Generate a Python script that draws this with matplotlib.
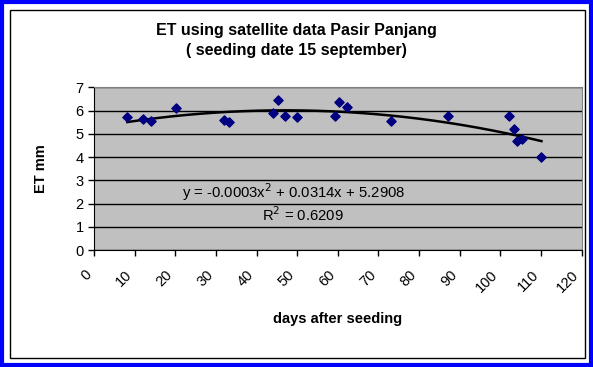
import numpy as np
import matplotlib
matplotlib.use("Agg")
import matplotlib.pyplot as plt
from matplotlib.patches import Rectangle

plt.rcParams['font.family'] = ['Liberation Sans', 'DejaVu Sans']

# days after seeding vs ET (mm)
days = [8.2, 12.0, 14.0, 20.1, 32.1, 33.2, 44.0, 45.3, 47.1, 50.0,
        59.3, 60.2, 62.2, 73.2, 87.2, 102.1, 103.3, 104.1, 105.3, 110.1]
et_mm = [5.73, 5.62, 5.55, 6.11, 5.58, 5.51, 5.88, 6.44, 5.78, 5.71,
         5.76, 6.38, 6.16, 5.56, 5.78, 5.78, 5.19, 4.67, 4.76, 4.01]
x_ticks = list(range(0, 121, 10))
y_ticks = list(range(0, 8))

fig = plt.figure(figsize=(5.93, 3.67), dpi=100)

# blue outer frame + black inner frame
fig.patches.append(Rectangle((0.003, 0.005), 0.994, 0.99, transform=fig.transFigure,
                             fill=False, edgecolor='#0000FF', linewidth=3))
fig.patches.append(Rectangle((10 / 593, 1 - 358 / 367), 575 / 593, 348 / 367,
                             transform=fig.transFigure, fill=False,
                             edgecolor='black', linewidth=1))

ax = fig.add_axes([94 / 593, 1 - 250 / 367, (581.7 - 94) / 593, (250 - 87.3) / 367])
ax.set_facecolor('#C0C0C0')

# polynomial trendline (order 2)
coef = np.polyfit(days, et_mm, 2)
xx = np.linspace(min(days), max(days), 200)
ax.plot(xx, np.polyval(coef, xx), color='black', linewidth=1.8, zorder=3)

ax.scatter(days, et_mm, marker='D', s=22, color='#000080', zorder=4)

ax.set_xlim(0, 120)
ax.set_ylim(0, 7)
ax.set_xticks(x_ticks)
ax.set_yticks(y_ticks)
ax.set_xticklabels([str(t) for t in x_ticks], rotation=45, ha='right', va='bottom',
                   rotation_mode='anchor', fontsize=10.5)
ax.set_yticklabels([str(t) for t in y_ticks], fontsize=10.5)
ax.yaxis.grid(True, color='black', linewidth=1)
ax.set_axisbelow(True)
ax.tick_params(length=4, width=1, color='black')
ax.tick_params(axis='x', pad=16)
for s in ['top', 'right']:
    ax.spines[s].set_color('#808080')

ax.set_ylabel('ET mm', fontsize=10.5, fontweight='bold', labelpad=20)
ax.set_xlabel('days after seeding', fontsize=10.5, fontweight='bold', labelpad=12)

ax.text(49, 2.5, 'y = -0.0003x$^2$ + 0.0314x + 5.2908', fontsize=10.7,
        ha='center', va='center')
ax.text(51.5, 1.5, 'R$^2$ = 0.6209', fontsize=10.7, ha='center', va='center')

fig.text(296 / 593, 1 - 31 / 367, 'ET using satellite data Pasir Panjang',
         fontsize=11.5, fontweight='bold', ha='center', va='center')
fig.text(296 / 593, 1 - 51 / 367, '( seeding date 15 september)',
         fontsize=11.5, fontweight='bold', ha='center', va='center')

fig.savefig('out.png', dpi=100)
